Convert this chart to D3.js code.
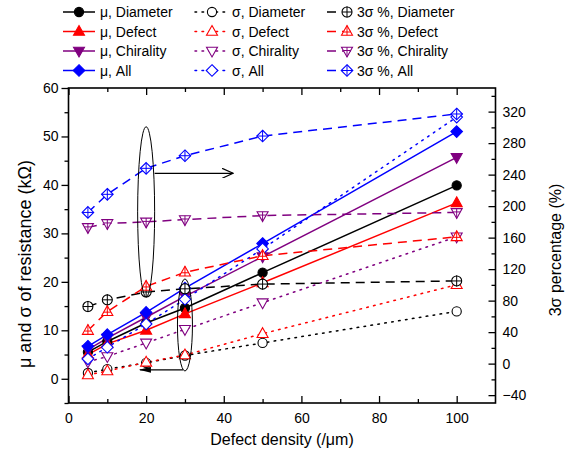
<!DOCTYPE html>
<html>
<head>
<meta charset="utf-8">
<script src="https://cdn.jsdelivr.net/npm/d3@7"></script>
<style>
  body { margin: 0; background: #fff; }
  text { font-family: "Liberation Sans", Arial, sans-serif; }
</style>
</head>
<body>
<div id="chart"></div>
<script>
// defect density (/um) on x
var density = [5, 10, 20, 30, 50, 100];

// mean resistance (kOhm), left axis
var muDiameter  = [5.5, 7.7, 11.5, 14.6, 21.9, 39.9];
var muDefect    = [5.0, 7.2, 10.0, 13.4, 19.8, 36.3];
var muChirality = [6.0, 8.4, 12.7, 17.0, 25.2, 45.7];
var muAll       = [6.7, 9.1, 13.7, 18.7, 27.9, 51.0];

// sigma (kOhm), left axis
var sdDiameter  = [1.2, 2.0, 3.3, 4.8, 7.4, 13.9];
var sdDefect    = [0.8, 1.6, 3.4, 4.9, 9.3, 19.4];
var sdChirality = [3.5, 4.6, 7.4, 10.2, 15.7, 29.3];
var sdAll       = [4.1, 6.5, 11.3, 16.4, 26.8, 54.0];

// 3 sigma percentage (%), right axis
var pctDiameter  = [72.5, 81, 91, 95, 101, 105];
var pctDefect    = [42, 66, 98, 116, 137, 161];
var pctChirality = [173, 178, 180, 183, 188, 192];
var pctAll       = [192, 215, 248, 264, 289, 317];

var xTicks = [0, 20, 40, 60, 80, 100];
var yLeftTicks = [0, 10, 20, 30, 40, 50, 60];
var yRightTicks = [-40, 0, 40, 80, 120, 160, 200, 240, 280, 320];

var black = "#000000", red = "#ff0000", purple = "#800080", blue = "#0000ff";

var series = [
  {name: "\u03bc, Diameter",  vals: muDiameter,  color: black,  shape: "circle", fill: true,  cross: false, dash: null,  axis: "L", col: 0, row: 0},
  {name: "\u03bc, Defect",    vals: muDefect,    color: red,    shape: "up",     fill: true,  cross: false, dash: null,  axis: "L", col: 0, row: 1},
  {name: "\u03bc, Chirality", vals: muChirality, color: purple, shape: "down",   fill: true,  cross: false, dash: null,  axis: "L", col: 0, row: 2},
  {name: "\u03bc, All",       vals: muAll,       color: blue,   shape: "diamond",fill: true,  cross: false, dash: null,  axis: "L", col: 0, row: 3},
  {name: "\u03c3, Diameter",  vals: sdDiameter,  color: black,  shape: "circle", fill: false, cross: false, dash: "1.6,5.4", axis: "L", col: 1, row: 0},
  {name: "\u03c3, Defect",    vals: sdDefect,    color: red,    shape: "up",     fill: false, cross: false, dash: "1.6,5.4", axis: "L", col: 1, row: 1},
  {name: "\u03c3, Chirality", vals: sdChirality, color: purple, shape: "down",   fill: false, cross: false, dash: "1.6,5.4", axis: "L", col: 1, row: 2},
  {name: "\u03c3, All",       vals: sdAll,       color: blue,   shape: "diamond",fill: false, cross: false, dash: "1.6,5.4", axis: "L", col: 1, row: 3},
  {name: "3\u03c3 %, Diameter",  vals: pctDiameter,  color: black,  shape: "circle", fill: false, cross: true, dash: "9,6", axis: "R", col: 2, row: 0},
  {name: "3\u03c3 %, Defect",    vals: pctDefect,    color: red,    shape: "up",     fill: false, cross: true, dash: "9,6", axis: "R", col: 2, row: 1},
  {name: "3\u03c3 %, Chirality", vals: pctChirality, color: purple, shape: "down",   fill: false, cross: true, dash: "9,6", axis: "R", col: 2, row: 2},
  {name: "3\u03c3 %, All",       vals: pctAll,       color: blue,   shape: "diamond",fill: false, cross: true, dash: "9,6", axis: "R", col: 2, row: 3}
];

var W = 572, H = 456;
var svg = d3.select("#chart").append("svg").attr("width", W).attr("height", H);

var x = d3.scaleLinear().domain([0, 110]).range([68.5, 495.5]);
var yL = d3.scaleLinear().domain([-5, 60]).range([403, 88]);
var yR = d3.scaleLinear().domain([-50, 350]).range([403, 88]);

function styleAxis(g) {
  g.select(".domain").remove();
  g.selectAll("line").attr("stroke", "#000").attr("stroke-width", 1.3);
  g.selectAll("text").attr("font-size", 14).attr("fill", "#000")
    .attr("font-family", "Liberation Sans, Arial, sans-serif");
}

// bottom
svg.append("g").attr("transform", "translate(0,403)")
  .call(d3.axisBottom(x).tickValues(xTicks).tickSize(-7).tickPadding(10)).call(styleAxis);
svg.append("g").attr("transform", "translate(0,403)")
  .call(d3.axisBottom(x).tickValues([10, 30, 50, 70, 90]).tickSize(-4).tickFormat("")).call(styleAxis);
// top
svg.append("g").attr("transform", "translate(0,88)")
  .call(d3.axisTop(x).tickValues(xTicks).tickSize(-7).tickFormat("")).call(styleAxis);
svg.append("g").attr("transform", "translate(0,88)")
  .call(d3.axisTop(x).tickValues([10, 30, 50, 70, 90]).tickSize(-4).tickFormat("")).call(styleAxis);
// left
svg.append("g").attr("transform", "translate(68.5,0)")
  .call(d3.axisLeft(yL).tickValues(yLeftTicks).tickSize(7).tickPadding(3)).call(styleAxis);
svg.append("g").attr("transform", "translate(68.5,0)")
  .call(d3.axisLeft(yL).tickValues([-5, 5, 15, 25, 35, 45, 55]).tickSize(4).tickFormat("")).call(styleAxis);
// right
svg.append("g").attr("transform", "translate(495.5,0)")
  .call(d3.axisRight(yR).tickValues(yRightTicks).tickSize(-7).tickPadding(7)).call(styleAxis);
svg.append("g").attr("transform", "translate(495.5,0)")
  .call(d3.axisRight(yR).tickValues([-20, 20, 60, 100, 140, 180, 220, 260, 300, 340]).tickSize(-4).tickFormat("")).call(styleAxis);

// frame
svg.append("rect").attr("x", 68.5).attr("y", 88).attr("width", 427).attr("height", 315)
  .attr("fill", "none").attr("stroke", "#000").attr("stroke-width", 1.6);

// axis titles
svg.append("text").attr("x", x(55)).attr("y", 445).attr("text-anchor", "middle")
  .attr("font-size", 16).text("Defect density (/\u03bcm)");
svg.append("text").attr("transform", "translate(31,264) rotate(-90)").attr("text-anchor", "middle")
  .attr("font-size", 18).text("\u03bc and \u03c3 of resistance (k\u03a9)");
svg.append("text").attr("transform", "translate(561,250) rotate(-90)").attr("text-anchor", "middle")
  .attr("font-size", 16).text("3\u03c3 percentage (%)");

function shapePath(shape) {
  if (shape === "up") return "M0,-6L5.5,3.8L-5.5,3.8Z";
  if (shape === "down") return "M0,6L5.5,-3.8L-5.5,-3.8Z";
  if (shape === "diamond") return "M0,-5.8L5.8,0L0,5.8L-5.8,0Z";
  return null;
}

function drawMarker(g, s, cx, cy) {
  var m = g.append("g").attr("transform", "translate(" + cx + "," + cy + ")");
  var fill = s.fill ? s.color : "#fff";
  if (s.shape === "circle") {
    m.append("circle").attr("r", s.cross ? 5 : 4.6).attr("fill", fill)
      .attr("stroke", s.color).attr("stroke-width", 1.1);
  } else {
    m.append("path").attr("d", shapePath(s.shape)).attr("fill", fill)
      .attr("stroke", s.color).attr("stroke-width", 1.1);
  }
  if (s.cross) {
    var top = s.shape === "up" ? -6 : (s.shape === "down" ? -3.8 : -5.6);
    var bot = s.shape === "up" ? 3.8 : (s.shape === "down" ? 6 : 5.6);
    m.append("line").attr("x1", 0).attr("x2", 0).attr("y1", top).attr("y2", bot)
      .attr("stroke", s.color).attr("stroke-width", 1);
    var hw = s.shape === "circle" ? 5 : (s.shape === "diamond" ? 5.8 : 3.5);
    var hy = s.shape === "up" ? 0.5 : (s.shape === "down" ? -0.5 : 0);
    m.append("line").attr("x1", -hw).attr("x2", hw).attr("y1", hy).attr("y2", hy)
      .attr("stroke", s.color).attr("stroke-width", 1);
  }
}

var plot = svg.append("g");

series.forEach(function(s) {
  var y = s.axis === "L" ? yL : yR;
  var pts = density.map(function(d, i) { return [d, s.vals[i]]; });
  var line = d3.line().x(function(p) { return x(p[0]); }).y(function(p) { return y(p[1]); });
  plot.append("path").datum(pts).attr("d", line)
    .attr("fill", "none").attr("stroke", s.color).attr("stroke-width", 1.5)
    .attr("stroke-dasharray", s.dash).attr("stroke-linecap", s.dash && s.dash[0] === "1" ? "round" : "butt");
});
series.forEach(function(s) {
  var y = s.axis === "L" ? yL : yR;
  density.forEach(function(d, i) { drawMarker(plot, s, x(d), y(s.vals[i])); });
});

// annotations: ellipses and arrows (in data units of left axis)
var defs = svg.append("defs");
defs.append("marker").attr("id", "openhead").attr("viewBox", "0 0 12 10")
  .attr("refX", 11).attr("refY", 5).attr("markerWidth", 12).attr("markerHeight", 10)
  .attr("markerUnits", "userSpaceOnUse").attr("orient", "auto")
  .append("path").attr("d", "M0,0L11,5L0,10").attr("fill", "none").attr("stroke", "#000").attr("stroke-width", 1.2);
defs.append("marker").attr("id", "solidhead").attr("viewBox", "0 0 12 6")
  .attr("refX", 11).attr("refY", 3).attr("markerWidth", 12).attr("markerHeight", 6)
  .attr("markerUnits", "userSpaceOnUse").attr("orient", "auto")
  .append("path").attr("d", "M0,0L12,3L0,6Z").attr("fill", "#000");

var ann = svg.append("g");
function ellipse(xc, y0, y1, rxPx) {
  ann.append("ellipse").attr("cx", x(xc)).attr("cy", (yL(y0) + yL(y1)) / 2)
    .attr("rx", rxPx).attr("ry", Math.abs(yL(y0) - yL(y1)) / 2)
    .attr("fill", "none").attr("stroke", "#000").attr("stroke-width", 1);
}
ellipse(20, 16.9, 52.0, 8.5);
ellipse(30, 1.6, 20.6, 7.5);
ann.append("line").attr("x1", x(20) + 8.5).attr("x2", x(42.4)).attr("y1", yL(42.4)).attr("y2", yL(42.4))
  .attr("stroke", "#000").attr("stroke-width", 1.2).attr("marker-end", "url(#openhead)");
ann.append("line").attr("x1", x(30) - 2).attr("x2", x(18.4)).attr("y1", yL(1.85)).attr("y2", yL(1.85))
  .attr("stroke", "#000").attr("stroke-width", 1.2).attr("marker-end", "url(#solidhead)");

// legend
var legCols = [
  {x1: 63, x2: 95, mx: 79, tx: 100},
  {x1: 195, x2: 227, mx: 212, tx: 232},
  {x1: 327, x2: 354, mx: 347, tx: 357}
];
var leg = svg.append("g");
series.forEach(function(s) {
  var c = legCols[s.col];
  var ly = 12 + s.row * 19.5;
  leg.append("line").attr("x1", c.x1).attr("x2", c.x2).attr("y1", ly).attr("y2", ly)
    .attr("stroke", s.color).attr("stroke-width", 1.5).attr("stroke-dasharray", s.dash)
    .attr("stroke-linecap", s.dash && s.dash[0] === "1" ? "round" : "butt");
  drawMarker(leg, s, c.mx, ly);
  leg.append("text").attr("x", c.tx).attr("y", ly + 5).attr("font-size", 14).text(s.name);
});
</script>
</body>
</html>
